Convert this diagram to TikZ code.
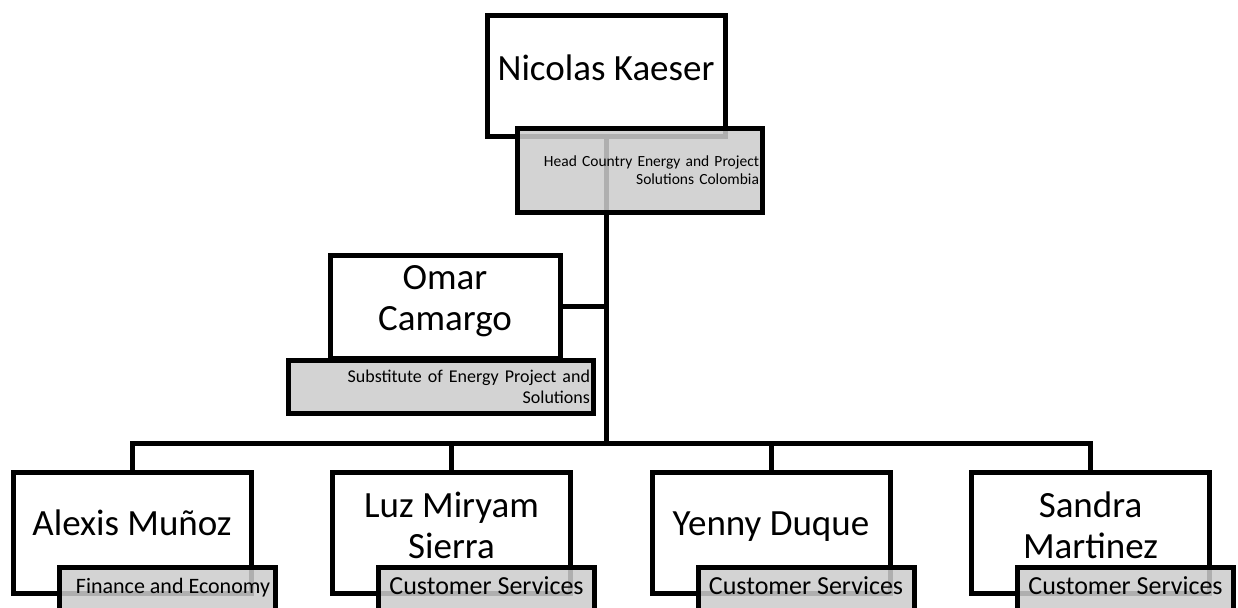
\documentclass[tikz,border=0pt]{standalone}
\usepackage{fontspec}
\setmainfont{Carlito}
\usepackage{tikz}
\usetikzlibrary{positioning}

\tikzset{
  namebox/.style={draw, line width=5pt, fill=white, minimum width=238pt, minimum height=121pt},
  nametext/.style={font=\fontsize{37}{41}\selectfont, align=center, inner sep=0pt},
  rolebox/.style={draw, line width=5pt, fill=black!20, fill opacity=0.86, text opacity=1, draw opacity=1, inner sep=3pt},
  rolebottom/.style={rolebox, minimum width=216pt, minimum height=46pt, text depth=8pt, anchor=center},
  link/.style={line width=5pt},
}

\begin{document}
\begin{tikzpicture}[x=1pt, y=-1pt, node distance=76.5pt]
\useasboundingbox (0,0) rectangle (1238,607);

% Cajas de nombres
\node[namebox] (nk) at (606,76) {};
\node[namebox, minimum width=230pt, minimum height=103pt] (om) at (445,306.5) {};
\node[namebox] (am) at (132,532.5) {};
\node[namebox, right=of am] (lm) {};
\node[namebox, right=of lm] (yd) {};
\node[namebox, right=of yd] (sm) {};

% Conexiones
\coordinate (bus) at (606,443);
\draw[link] (nk.south) -- (bus);
\draw[link] (om.east) -- (om.east -| nk.south);
\draw[link] (bus) -| (am.north);
\draw[link] (bus) -| (lm.north);
\draw[link] (bus) -| (yd.north);
\draw[link] (bus) -| (sm.north);

% Cargos
\node[rolebox, minimum width=245pt, minimum height=84pt, text width=239pt, align=right,
  font=\fontsize{15.5}{17.5}\selectfont] (nk-role) at (639.5,170)
  {Head Country Energy and Project\\Solutions Colombia};
\node[rolebox, minimum width=305pt, minimum height=53pt, text width=299pt, align=right,
  font=\fontsize{18}{21}\selectfont] (om-role) at (440.5,386.5)
  {Substitute of Energy Project and\\Solutions};
\node[rolebottom, font=\fontsize{22}{26}\selectfont] (am-role) at (167,590) {\hspace*{12pt}Finance and Economy};
\node[rolebottom, font=\fontsize{26}{30}\selectfont] (lm-role) at ([xshift=35pt, yshift=-57.5pt]lm) {Customer Services};
\node[rolebottom, font=\fontsize{26}{30}\selectfont] (yd-role) at ([xshift=35pt, yshift=-57.5pt]yd) {Customer Services};
\node[rolebottom, font=\fontsize{26}{30}\selectfont] (sm-role) at ([xshift=35pt, yshift=-57.5pt]sm) {Customer Services};

% Nombres
\node[nametext] (nk-name) at ([yshift=8pt]nk) {Nicolas Kaeser};
\node[nametext] (om-name) at ([yshift=5pt]om) {Omar\\Camargo};
\node[nametext] (am-name) at ([yshift=9.5pt]am) {Alexis Muñoz};
\node[nametext] (lm-name) at ([yshift=7.5pt]lm) {Luz Miryam\\Sierra};
\node[nametext] (yd-name) at ([yshift=6pt]yd) {Yenny Duque};
\node[nametext] (sm-name) at ([yshift=7.5pt]sm) {Sandra\\Martinez};
\end{tikzpicture}
\end{document}
